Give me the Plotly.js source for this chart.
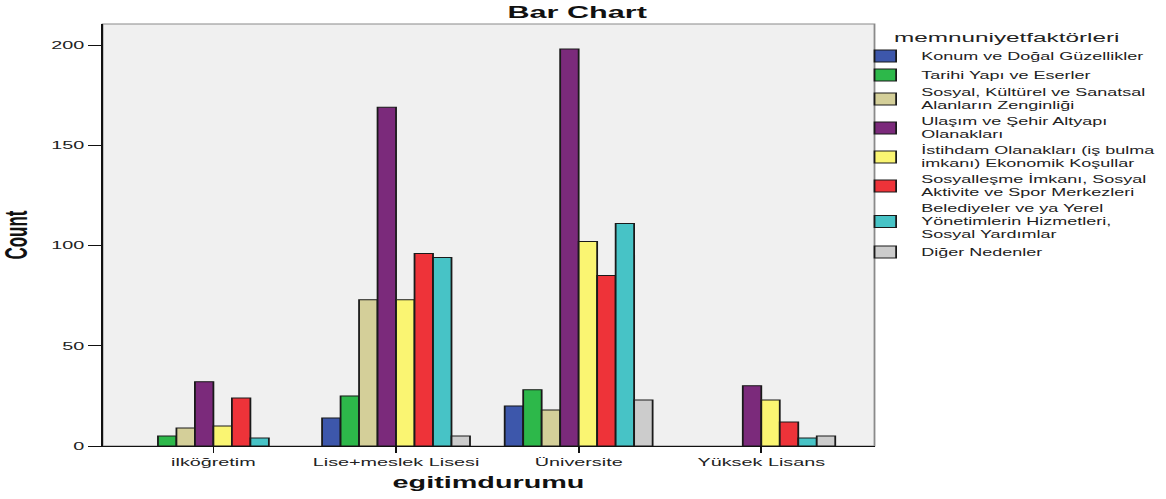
<!DOCTYPE html>
<html>
<head>
<meta charset="utf-8">
<script src="https://cdn.plot.ly/plotly-3.0.1.min.js"></script>
<style>
html,body{margin:0;padding:0;background:#fff;overflow:hidden}
#wrap{width:1166px;height:499px;overflow:hidden}
#chart{width:648px;height:499px;transform:scaleX(1.7994);transform-origin:0 0}
</style>
</head>
<body>
<div id="wrap"><div id="chart"></div></div>
<script>
// Categories (x axis: egitimdurumu)
const categories = ["ilköğretim", "Lise+meslek Lisesi", "Üniversite", "Yüksek Lisans"];

// Series names (memnuniyetfaktörleri)
const seriesNames = [
  "Konum ve Doğal Güzellikler",
  "Tarihi Yapı ve Eserler",
  "Sosyal, Kültürel ve Sanatsal<br>Alanların Zenginliği",
  "Ulaşım ve Şehir Altyapı<br>Olanakları",
  "İstihdam Olanakları (iş bulma<br>imkanı) Ekonomik Koşullar",
  "Sosyalleşme İmkanı, Sosyal<br>Aktivite ve Spor Merkezleri",
  "Belediyeler ve ya Yerel<br>Yönetimlerin Hizmetleri,<br>Sosyal Yardımlar",
  "Diğer Nedenler"
];

// Counts per category (null = no bar)
const konum      = [null, 14, 20, null];
const tarihi     = [5, 25, 28, null];
const sosyalKult = [9, 73, 18, null];
const ulasim     = [32, 169, 198, 30];
const istihdam   = [10, 73, 102, 23];
const sosyallesme= [24, 96, 85, 12];
const belediye   = [4, 94, 111, 4];
const diger      = [null, 5, 23, 5];

const seriesValues = [konum, tarihi, sosyalKult, ulasim, istihdam, sosyallesme, belediye, diger];
const seriesColors = ["#3d57ab", "#2db84a", "#d4cf99", "#7b2a7b", "#faf572", "#ee3339", "#47c3c6", "#cccccc"];

const FONT = "Liberation Sans, Arial, sans-serif";

const traces = seriesValues.map((vals, i) => ({
  type: "bar",
  name: seriesNames[i],
  x: categories,
  y: vals,
  marker: {color: seriesColors[i], line: {color: "#1a1a1a", width: 1}},
  hovertemplate: "%{x}<br>Count: %{y}<extra></extra>"
}));

const layout = {
  width: 648,
  height: 499,
  autosize: false,
  paper_bgcolor: "#ffffff",
  plot_bgcolor: "#f0f0f0",
  margin: {l: 56.5, r: 162, t: 24, b: 53, autoexpand: false},
  barmode: "group",
  bargap: 0.19,
  bargroupgap: 0,
  font: {family: FONT, color: "#222", size: 11},
  title: {
    text: "<b>Bar Chart</b>",
    font: {family: FONT, size: 17, color: "#111"},
    x: 0.495, xref: "container", xanchor: "center",
    y: 0.988, yref: "container", yanchor: "top"
  },
  xaxis: {
    type: "category",
    range: [-0.607, 3.62],
    showline: true, linecolor: "#111", linewidth: 1,
    ticks: "outside", ticklen: 6, tickcolor: "#111",
    showgrid: false, zeroline: false,
    tickfont: {family: FONT, size: 11, color: "#222"},
    title: {text: "<b>egitimdurumu</b>", font: {family: FONT, size: 16, color: "#111"}, standoff: 9}
  },
  yaxis: {
    range: [0, 210.5],
    tickvals: [0, 50, 100, 150, 200],
    showline: true, linecolor: "#111", linewidth: 1,
    ticks: "outside", ticklen: 7, tickcolor: "#111",
    showgrid: false, zeroline: false,
    tickfont: {family: FONT, size: 11, color: "#222"},
    title: {text: "<b>Count</b>", font: {family: FONT, size: 17, color: "#111"}, standoff: 12}
  },
  legend: {
    x: 0.9674, xanchor: "left",
    y: 1.0, yanchor: "top",
    bgcolor: "rgba(0,0,0,0)",
    font: {family: FONT, size: 10, color: "#222"},
    tracegroupgap: 0,
    title: {text: "memnuniyetfaktörleri", side: "top center", font: {family: FONT, size: 13.5, color: "#222"}}
  },
  shapes: [{
    type: "rect", xref: "paper", yref: "paper", x0: 0, x1: 1, y0: 0, y1: 1,
    line: {color: "#8a8a8a", width: 1}, fillcolor: "rgba(0,0,0,0)", layer: "below"
  }]
};

Plotly.newPlot("chart", traces, layout, {displayModeBar: false, responsive: false});
</script>
</body>
</html>
